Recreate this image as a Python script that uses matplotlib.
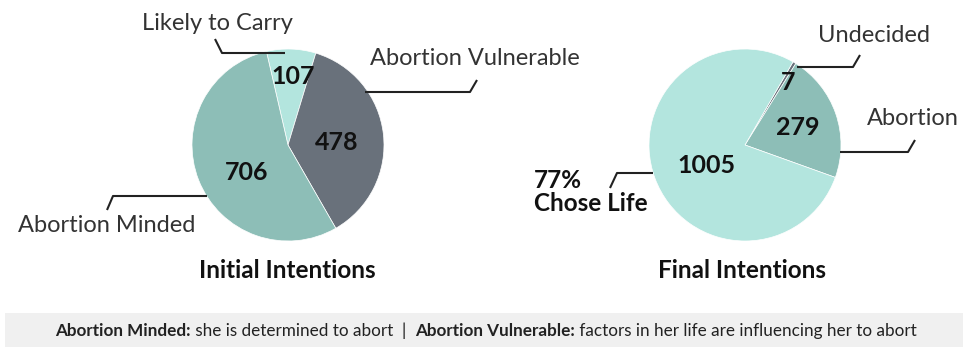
import matplotlib
matplotlib.use("Agg")
import matplotlib.pyplot as plt
import numpy as np
from matplotlib.patches import Rectangle

W, H = 963, 347

# data
initial_labels = ["Likely to Carry", "Abortion Vulnerable", "Abortion Minded"]
initial_values = [107, 478, 706]
final_labels = ["Undecided", "Abortion", "Chose Life"]
final_values = [7, 279, 1005]
chose_life_share = "77%"
titles = ["Initial Intentions", "Final Intentions"]
footer_parts = [
    ("Abortion Minded:", "bold"),
    (" she is determined to abort  |  ", "normal"),
    ("Abortion Vulnerable:", "bold"),
    (" factors in her life are influencing her to abort", "normal"),
]

LIGHT = "#b3e5de"
MID = "#8dbeb7"
DARK = "#69717b"
INK = "#111111"
GREY_TXT = "#333333"

plt.rcParams["font.family"] = ["Lato", "DejaVu Sans"]

fig = plt.figure(figsize=(W / 100, H / 100), dpi=100)
ax = fig.add_axes([0, 0, 1, 1])
R = 96
LBL = 17


def Y(y):
    # picture y (top down) -> data y
    return H - y


def draw_pie(values, colors, center, start, label_pos):
    cx, cy = center[0], Y(center[1])
    wedges, _ = ax.pie(values, colors=colors, startangle=start, counterclock=False,
                       center=(cx, cy), radius=R,
                       wedgeprops=dict(edgecolor="white", linewidth=0.5))
    for w, v, (r, dang) in zip(wedges, values, label_pos):
        ang = np.deg2rad((w.theta1 + w.theta2) / 2 + dang)
        ax.text(cx + r * R * np.cos(ang), cy + r * R * np.sin(ang), str(v),
                ha="center", va="center", fontsize=18, fontweight="bold", color=INK)
    return wedges


def leader(pts):
    xs = [p[0] for p in pts]
    ys = [Y(p[1]) for p in pts]
    ax.plot(xs, ys, color="#222222", lw=1.5, solid_capstyle="butt")


# left pie
draw_pie(initial_values, [LIGHT, DARK, MID], (288, 145), 103,
         [(0.72, -2), (0.51, -4), (0.52, 12)])
leader([(215, 39), (222, 53), (285, 53)])
ax.text(217, Y(23), initial_labels[0], ha="center", va="center", fontsize=LBL, color=GREY_TXT)
leader([(365, 92), (470, 92), (477, 80)])
ax.text(475, Y(58), initial_labels[1], ha="center", va="center", fontsize=LBL, color=GREY_TXT)
leader([(107, 210), (113, 196), (207, 196)])
ax.text(107, Y(225), initial_labels[2], ha="center", va="center", fontsize=LBL, color=GREY_TXT)

# right pie
draw_pie(final_values, [DARK, MID, LIGHT], (745, 145), 60,
         [(0.79, -4), (0.58, -1), (0.45, 8)])
leader([(860, 55), (853, 67), (797, 67)])
ax.text(874, Y(35), final_labels[0], ha="center", va="center", fontsize=LBL, color=GREY_TXT)
leader([(915, 140), (908, 152), (840, 152)])
ax.text(913, Y(118), final_labels[1], ha="center", va="center", fontsize=LBL, color=GREY_TXT)
leader([(653, 173), (617, 173), (610, 188)])
ax.text(534, Y(192), chose_life_share + "\n" + final_labels[2], ha="left", va="center",
        fontsize=17.5, fontweight="bold", color=INK, linespacing=1.0)

# titles
ax.text(287, Y(270), titles[0], ha="center", va="center", fontsize=17.5, fontweight="bold", color=INK)
ax.text(742, Y(270), titles[1], ha="center", va="center", fontsize=17.5, fontweight="bold", color=INK)

# footer band
ax.add_patch(Rectangle((5, 0), W - 5, 34, facecolor="#f0f0f0", edgecolor="none"))

ax.set_xlim(0, W)
ax.set_ylim(0, H)
ax.set_aspect("auto")
ax.axis("off")

renderer = fig.canvas.get_renderer()
x = 0
pieces = []
for txt, wt in footer_parts:
    t = ax.text(x, Y(331), txt, ha="left", va="center", fontsize=12.3,
                fontweight=wt, color="#222222")
    bb = t.get_window_extent(renderer)
    pieces.append(t)
    x = bb.x1
shift = 486 - x / 2
for t in pieces:
    px, py = t.get_position()
    t.set_position((px + shift, py))

fig.savefig("out.png", dpi=100)
